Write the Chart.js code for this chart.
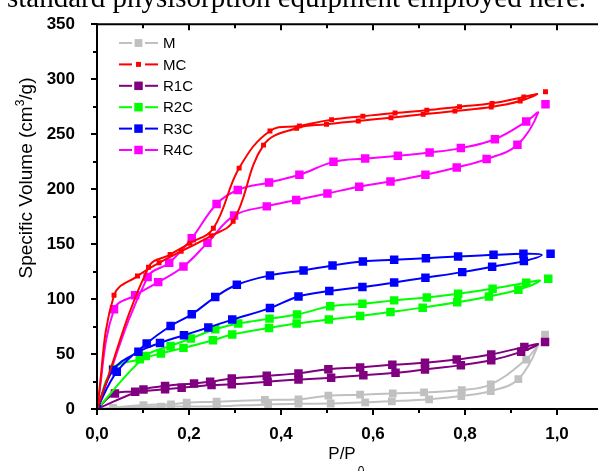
<!DOCTYPE html>
<html><head><meta charset="utf-8">
<script src="https://cdn.jsdelivr.net/npm/chart.js@4/dist/chart.umd.min.js"></script>
<style>
html,body{margin:0;padding:0;background:#fff;overflow:hidden;width:598px;height:471px;}
#top{position:absolute;left:7px;top:-17px;font-family:"Liberation Serif","Times New Roman",serif;font-size:29px;line-height:29px;white-space:nowrap;color:#000;z-index:2;}
#wrap{position:absolute;left:0;top:0;width:610px;height:471px;z-index:1;}
</style></head><body>
<div id="top">standard physisorption equipment employed here.</div>
<div id="wrap"><canvas id="c" width="610" height="471"></canvas></div>
<script>
// ---- data ----
const seriesNames = ['M', 'MC', 'R1C', 'R2C', 'R3C', 'R4C'];
const xTickLabels = ['0,0', '0,2', '0,4', '0,6', '0,8', '1,0'];
const yTickLabels = ['0', '50', '100', '150', '200', '250', '300', '350'];

const M_adsX = [0.035, 0.139, 0.195, 0.260, 0.372, 0.438, 0.508, 0.583, 0.641, 0.722, 0.792, 0.856, 0.916];
const M_adsY = [1.0, 2.1, 2.2, 2.4, 4.2, 4.8, 5.0, 6.1, 7.0, 8.8, 11.8, 16.3, 27.2];
const M_desX = [0.101, 0.161, 0.195, 0.260, 0.365, 0.438, 0.503, 0.572, 0.643, 0.711, 0.793, 0.856, 0.933];
const M_desY = [3.6, 4.3, 5.7, 6.6, 8.2, 8.8, 12.1, 13.0, 14.2, 15.1, 17.2, 22.4, 45.0];

const MC_adsX = [0.037, 0.088, 0.135, 0.183, 0.248, 0.296, 0.362, 0.434, 0.499, 0.568, 0.639, 0.709, 0.778, 0.857, 0.920];
const MC_adsY = [103.4, 120.9, 133.0, 143.5, 157.5, 170.7, 240.0, 255.4, 259.0, 262.0, 265.0, 268.0, 271.1, 274.7, 280.1];
const MC_desX = [0.112, 0.159, 0.202, 0.253, 0.309, 0.376, 0.440, 0.510, 0.578, 0.648, 0.717, 0.788, 0.859, 0.928];
const MC_desY = [129.0, 140.5, 150.8, 164.4, 219.1, 252.9, 257.5, 263.2, 266.3, 269.3, 271.7, 275.0, 278.0, 283.8];

const R1C_adsX = [0.039, 0.083, 0.148, 0.184, 0.249, 0.293, 0.371, 0.438, 0.509, 0.579, 0.649, 0.713, 0.791, 0.857, 0.922];
const R1C_adsY = [14.2, 15.7, 17.9, 19.3, 21.8, 22.4, 24.8, 26.9, 28.4, 30.8, 32.9, 36.0, 39.9, 44.4, 52.0];
const R1C_desX = [0.101, 0.148, 0.211, 0.246, 0.293, 0.369, 0.438, 0.503, 0.572, 0.642, 0.713, 0.782, 0.857, 0.929];
const R1C_desY = [17.8, 20.9, 23.3, 24.8, 27.8, 30.2, 32.4, 36.2, 37.8, 40.2, 42.0, 45.0, 49.6, 56.5];

const R2C_adsX = [0.035, 0.093, 0.139, 0.188, 0.252, 0.294, 0.374, 0.434, 0.504, 0.572, 0.638, 0.708, 0.783, 0.852, 0.916];
const R2C_adsY = [36.3, 45.3, 50.5, 55.6, 62.6, 67.7, 73.7, 77.7, 81.3, 84.6, 88.2, 92.2, 97.0, 102.4, 108.5];
const R2C_desX = [0.106, 0.160, 0.204, 0.257, 0.307, 0.375, 0.435, 0.507, 0.577, 0.646, 0.717, 0.785, 0.860, 0.933];
const R2C_desY = [48.3, 57.4, 64.1, 72.5, 77.7, 82.2, 85.9, 93.4, 95.8, 98.8, 101.5, 104.9, 109.4, 114.9];

const R3C_adsX = [0.035, 0.090, 0.137, 0.189, 0.242, 0.294, 0.376, 0.438, 0.505, 0.577, 0.646, 0.714, 0.794, 0.859, 0.928];
const R3C_adsY = [35.4, 52.0, 60.1, 67.1, 74.1, 81.3, 91.8, 102.4, 107.3, 110.9, 115.1, 119.4, 124.5, 129.4, 134.5];
const R3C_desX = [0.043, 0.108, 0.160, 0.206, 0.257, 0.304, 0.376, 0.449, 0.512, 0.578, 0.646, 0.715, 0.785, 0.862, 0.927];
const R3C_desY = [33.8, 59.6, 75.5, 86.1, 101.8, 113.0, 121.5, 126.0, 130.6, 134.2, 135.7, 137.2, 138.7, 140.2, 141.2];

const R4C_adsX = [0.037, 0.083, 0.133, 0.188, 0.240, 0.298, 0.369, 0.433, 0.501, 0.570, 0.638, 0.714, 0.782, 0.847, 0.914];
const R4C_adsY = [90.7, 103.4, 115.4, 129.6, 151.1, 175.9, 184.3, 190.1, 196.1, 202.2, 207.0, 213.0, 219.7, 227.3, 240.3];
const R4C_desX = [0.110, 0.157, 0.206, 0.260, 0.306, 0.374, 0.440, 0.514, 0.583, 0.654, 0.723, 0.791, 0.865, 0.933];
const R4C_desY = [120.0, 133.0, 155.3, 186.5, 199.2, 206.1, 213.0, 224.8, 227.8, 230.3, 233.3, 237.3, 245.4, 261.4];

// last measured point (P/P0 ~ 0.98) and where the smoothed loop turns back
const finalX = [0.974, 0.975, 0.974, 0.981, 0.986, 0.975];
const finalY = [67.7, 288.6, 61.0, 118.5, 141.2, 277.2];
const tipX = [0.959, 0.957, 0.959, 0.963, 0.967, 0.959];
const tipY = [58.0, 286.5, 59.0, 116.7, 140.2, 269.5];

// ---- styles ----
const colors = ['#c0c0c0', '#ff0000', '#800080', '#00ff00', '#0000ff', '#ff00ff'];
const markerR = [5.5, 3.5, 6, 6, 6, 6];
const drawRank = [5, 0, 4, 2, 1, 3]; // 0 = topmost

const raw = [
  [M_adsX, M_adsY, M_desX, M_desY],
  [MC_adsX, MC_adsY, MC_desX, MC_desY],
  [R1C_adsX, R1C_adsY, R1C_desX, R1C_desY],
  [R2C_adsX, R2C_adsY, R2C_desX, R2C_desY],
  [R3C_adsX, R3C_adsY, R3C_desX, R3C_desY],
  [R4C_adsX, R4C_adsY, R4C_desX, R4C_desY]
];
const pts = (xs, ys) => xs.map((x, i) => ({x, y: ys[i]}));

const datasets = [];
seriesNames.forEach((name, i) => {
  const [ax, ay, dx, dy] = raw[i];
  const origin = {x: 0, y: 0};
  const loop = [origin, ...pts(ax, ay), {x: tipX[i], y: tipY[i]}, ...pts(dx, dy).reverse(), origin];
  const marks = [origin, ...pts(ax, ay), {x: finalX[i], y: finalY[i]}, ...pts(dx, dy)];
  datasets.push({
    label: name + ' line', data: loop, showLine: true, borderColor: colors[i], borderWidth: 2,
    pointRadius: 0, tension: 0.4, fill: false, order: drawRank[i] * 2 + 1
  });
  datasets.push({
    label: name, data: marks, showLine: false, pointStyle: 'rect', pointRadius: markerR[i],
    backgroundColor: colors[i], borderColor: colors[i], pointBorderWidth: 0, order: drawRank[i] * 2
  });
});

const FONT = '"Liberation Sans", Arial, sans-serif';

const decor = {
  id: 'decor',
  afterDraw(chart) {
    const {ctx, chartArea: a, scales: {x, y}} = chart;
    ctx.save();
    ctx.strokeStyle = '#000';
    ctx.lineWidth = 2;
    const line = (x1, y1, x2, y2) => { ctx.beginPath(); ctx.moveTo(x1, y1); ctx.lineTo(x2, y2); ctx.stroke(); };
    // frame
    line(a.left, a.top, a.right, a.top);
    line(a.left, a.bottom, a.right, a.bottom);
    line(a.left, a.top - 1, a.left, a.bottom + 1);
    line(a.right, a.top - 1, a.right, a.bottom + 1);
    // x ticks (major 0.2, minor 0.1)
    for (let i = 0; i <= 11; i++) {
      const px = Math.round(x.getPixelForValue(i / 10));
      const len = i % 2 === 0 ? 6 : 4;
      line(px, a.bottom, px, a.bottom + len);
      line(px, a.top, px, a.top + len);
    }
    // y ticks (major 50, minor 25)
    for (let v = 0; v <= 350; v += 25) {
      const py = Math.round(y.getPixelForValue(v));
      const len = v % 50 === 0 ? 6 : 4;
      line(a.left - len, py, a.left, py);
    }
    // y title with superscript
    ctx.fillStyle = '#000';
    ctx.save();
    ctx.translate(32, 178);
    ctx.rotate(-Math.PI / 2);
    const f1 = '19px ' + FONT, f2 = '12px ' + FONT;
    ctx.font = f1;
    const p1 = 'Specific Volume (cm', p3 = '/g)';
    const w1 = ctx.measureText(p1).width, w3 = ctx.measureText(p3).width;
    ctx.font = f2;
    const w2 = ctx.measureText('3').width;
    let sx = -(w1 + w2 + w3) / 2;
    ctx.textBaseline = 'alphabetic';
    ctx.textAlign = 'left';
    ctx.font = f1; ctx.fillText(p1, sx, 0); sx += w1;
    ctx.font = f2; ctx.fillText('3', sx, -8); sx += w2;
    ctx.font = f1; ctx.fillText(p3, sx, 0);
    ctx.restore();
    // x title with subscript
    ctx.font = '17px ' + FONT;
    const wp = ctx.measureText('P/P').width;
    ctx.textAlign = 'left';
    ctx.textBaseline = 'alphabetic';
    const cx = 345;
    ctx.fillText('P/P', cx - wp / 2 - 3, 459);
    ctx.font = '12px ' + FONT;
    ctx.fillText('0', cx + wp / 2 - 1, 475);
    // legend
    ctx.font = '15px ' + FONT;
    ctx.textBaseline = 'middle';
    seriesNames.forEach((n, i) => {
      const ly = 43 + i * 21.4;
      ctx.strokeStyle = colors[i];
      ctx.lineWidth = 2;
      line(119, ly, 132, ly);
      line(145, ly, 158, ly);
      const s = markerR[i] * Math.SQRT2;
      ctx.fillStyle = colors[i];
      ctx.fillRect(138.5 - s / 2, ly - s / 2, s, s);
      ctx.fillStyle = '#000';
      ctx.fillText(n, 163, ly + 1);
    });
    ctx.restore();
  }
};

new Chart(document.getElementById('c'), {
  type: 'scatter',
  data: {datasets},
  options: {
    responsive: false,
    animation: false,
    events: [],
    layout: {padding: {top: 23, right: 7, left: 0, bottom: 0}},
    plugins: {legend: {display: false}, tooltip: {enabled: false}, title: {display: false}},
    scales: {
      x: {
        type: 'linear', min: 0, max: 1.1,
        grid: {display: false}, border: {display: false},
        afterFit: s => { s.height = 62; },
        ticks: {
          stepSize: 0.2, padding: 7, color: '#000',
          font: {family: FONT, size: 17, weight: 'bold'},
          callback: v => {
            const k = Math.round(v * 10);
            return (k % 2 === 0 && k <= 10) ? xTickLabels[k / 2] : '';
          }
        }
      },
      y: {
        type: 'linear', min: 0, max: 350,
        grid: {display: false}, border: {display: false},
        afterFit: s => { s.width = 97; },
        ticks: {
          stepSize: 50, padding: 14, color: '#000',
          font: {family: FONT, size: 17, weight: 'bold'},
          callback: v => yTickLabels[Math.round(v / 50)]
        }
      }
    }
  },
  plugins: [decor]
});
</script>
</body></html>
